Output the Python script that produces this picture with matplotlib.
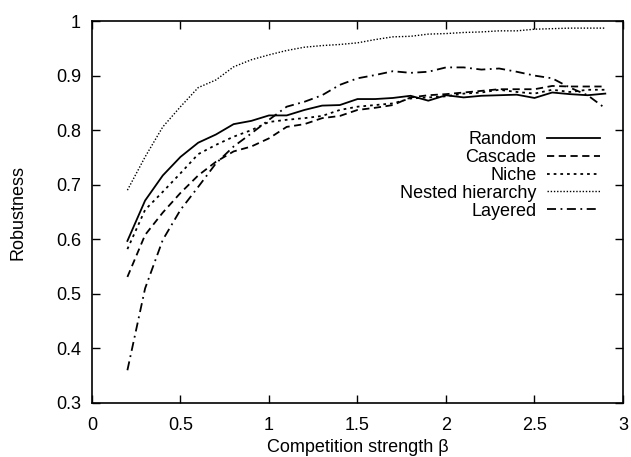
import numpy as np
import matplotlib
matplotlib.use('Agg')
import matplotlib.pyplot as plt

plt.rcParams['font.family'] = ['Liberation Sans', 'DejaVu Sans']

# Competition strength values
beta = np.round(np.arange(0.2, 2.95, 0.1), 1)

random_net = [0.597, 0.671, 0.717, 0.751, 0.777, 0.792, 0.811, 0.817, 0.827, 0.827,
              0.837, 0.845, 0.846, 0.857, 0.857, 0.859, 0.863, 0.854, 0.864, 0.860,
              0.863, 0.864, 0.865, 0.859, 0.869, 0.866, 0.864, 0.867]
cascade = [0.531, 0.608, 0.649, 0.685, 0.717, 0.742, 0.761, 0.770, 0.785, 0.806,
           0.811, 0.822, 0.826, 0.837, 0.841, 0.846, 0.860, 0.864, 0.866, 0.869,
           0.872, 0.875, 0.875, 0.875, 0.881, 0.880, 0.880, 0.880]
niche = [0.582, 0.654, 0.687, 0.721, 0.756, 0.773, 0.788, 0.800, 0.815, 0.819,
         0.822, 0.826, 0.837, 0.843, 0.846, 0.849, 0.858, 0.860, 0.862, 0.867,
         0.869, 0.874, 0.870, 0.867, 0.874, 0.870, 0.874, 0.874]
nested = [0.690, 0.751, 0.806, 0.843, 0.878, 0.892, 0.916, 0.929, 0.938, 0.946,
          0.952, 0.955, 0.957, 0.960, 0.966, 0.971, 0.972, 0.976, 0.977, 0.979,
          0.980, 0.982, 0.982, 0.985, 0.986, 0.987, 0.987, 0.987]
layered = [0.360, 0.510, 0.599, 0.654, 0.696, 0.739, 0.770, 0.794, 0.819, 0.843,
           0.852, 0.864, 0.883, 0.895, 0.901, 0.908, 0.905, 0.907, 0.915, 0.915,
           0.911, 0.913, 0.907, 0.900, 0.895, 0.878, 0.864, 0.840]

fig = plt.figure(figsize=(6.31, 4.57), dpi=100)
ax = fig.add_axes([0.1458, 0.1182, 0.8415, 0.8358])

lw = 1.3
ax.plot(beta, random_net, color='black', lw=lw, linestyle='-', label='Random')
ax.plot(beta, cascade, color='black', lw=lw, linestyle=(0, (4, 2.5)), label='Cascade')
ax.plot(beta, niche, color='black', lw=lw, linestyle=(0, (1.5, 2.2)), label='Niche')
ax.plot(beta, nested, color='black', lw=1.0, linestyle=(0, (1, 1.3)), label='Nested hierarchy')
ax.plot(beta, layered, color='black', lw=lw, linestyle=(0, (5, 2.5, 1, 2.5)), label='Layered')

ax.set_xlim(0, 3)
ax.set_ylim(0.3, 1)
ax.set_xticks([0, 0.5, 1, 1.5, 2, 2.5, 3])
ax.set_xticklabels(['0', '0.5', '1', '1.5', '2', '2.5', '3'])
ax.set_yticks([0.3, 0.4, 0.5, 0.6, 0.7, 0.8, 0.9, 1])
ax.set_yticklabels(['0.3', '0.4', '0.5', '0.6', '0.7', '0.8', '0.9', '1'])
ax.tick_params(direction='in', top=True, right=True, length=6, width=1,
               labelsize=13, colors='black')
ax.tick_params(axis='y', pad=8)
ax.tick_params(axis='x', pad=10)
for s in ax.spines.values():
    s.set_linewidth(1.2)

ax.set_xlabel('Competition strength β', fontsize=13, labelpad=4)
ax.set_ylabel('Robustness', fontsize=13, labelpad=21)

ax.legend(loc='upper right', bbox_to_anchor=(0.98, 0.745), frameon=False,
          markerfirst=False, fontsize=13, handlelength=2.9, handletextpad=0.6,
          labelspacing=0.05, borderpad=0.2)

fig.savefig('out.png', dpi=100)
